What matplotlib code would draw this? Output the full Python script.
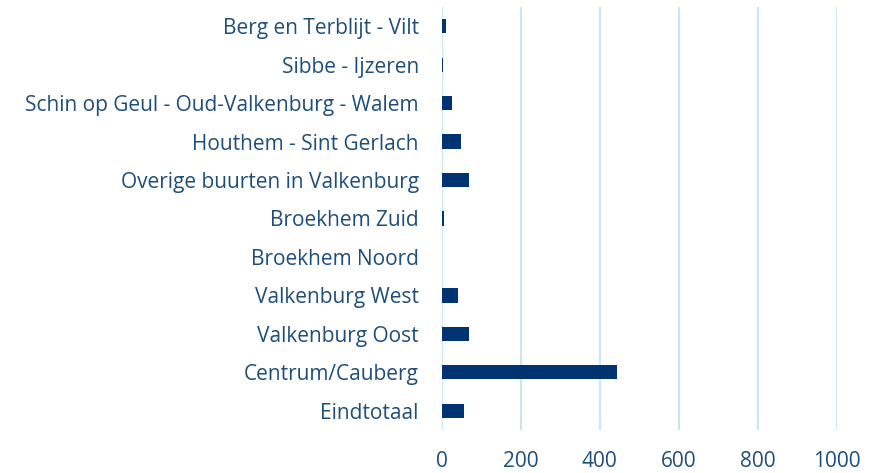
import matplotlib
matplotlib.use("Agg")
import matplotlib.pyplot as plt

# buurten, top to bottom as shown
buurten = [
    "Berg en Terblijt - Vilt",
    "Sibbe - Ijzeren",
    "Schin op Geul - Oud-Valkenburg - Walem",
    "Houthem - Sint Gerlach",
    "Overige buurten in Valkenburg",
    "Broekhem Zuid",
    "Broekhem Noord",
    "Valkenburg West",
    "Valkenburg Oost",
    "Centrum/Cauberg",
    "Eindtotaal",
]
aantallen = [10, 3, 27, 49, 70, 5, 0, 42, 69, 443, 57]
xticks = [0, 200, 400, 600, 800, 1000]

text_color = "#1F4E79"
bar_color = "#003371"
grid_color = "#CCE4F7"

plt.rcParams["font.family"] = ["Open Sans", "DejaVu Sans"]

fig = plt.figure(figsize=(8.77, 4.73), dpi=100)
ax = fig.add_axes([441.7 / 877, 43 / 473, (836.7 - 441.7) / 877, 423 / 473])

ypos = list(range(len(buurten)))
ax.barh(ypos, aantallen, height=0.37, color=bar_color, zorder=3)
ax.set_ylim(len(buurten) - 0.5, -0.5)
ax.set_xlim(0, 1000)
ax.set_yticks(ypos)
ax.set_yticklabels(buurten, fontsize=15, color=text_color)
ax.set_xticks(xticks)
ax.set_xticklabels([str(t) for t in xticks], fontsize=15, color=text_color)
ax.tick_params(axis="both", length=0)
ax.tick_params(axis="y", pad=16.5)
ax.tick_params(axis="x", pad=15)

ax.grid(axis="x", color=grid_color, linewidth=1.5, zorder=0)
for side in ["top", "right", "bottom", "left"]:
    ax.spines[side].set_visible(False)

fig.savefig("out.png", dpi=100)
